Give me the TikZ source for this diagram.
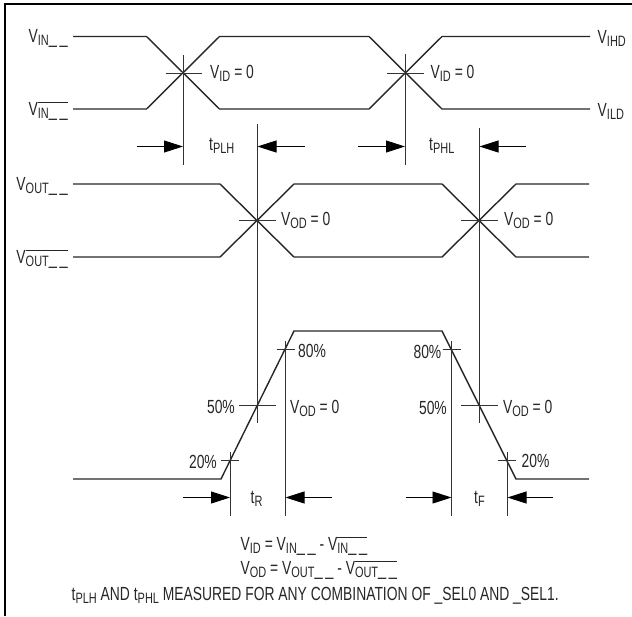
\documentclass[tikz,border=0pt]{standalone}
\usepackage{fontspec}
\setmainfont{Liberation Sans}[FakeStretch=0.73]
\usetikzlibrary{arrows.meta}
\newcommand{\uu}{\raisebox{1.5pt}{\fontsize{20}{20}\selectfont\_}\kern2.7pt\raisebox{1.5pt}{\fontsize{20}{20}\selectfont\_}}
\newcommand{\vlab}[1]{V\lower3pt\hbox{\fontsize{15}{15}\selectfont #1}}
\newcommand{\vbar}[1]{V\lower3pt\hbox{\fontsize{15}{15}\selectfont$\overline{\hbox{\rule{0pt}{14.5pt}#1}}$}}
\newcommand{\tlab}[1]{t\lower3pt\hbox{\fontsize{15}{15}\selectfont #1}}
\begin{document}
\begin{tikzpicture}[x=1pt,y=-1pt,line join=miter,font=\fontsize{19}{19}\selectfont]
	\tikzstyle{wave}=[line width=1.4pt,draw=black!85];
	\tikzstyle{guide}=[line width=0.8pt,draw=black!80];
	\tikzstyle{meas}=[line width=0.9pt,draw=black,-{Triangle[length=19pt,width=12pt]}];
	\tikzstyle{lab}=[inner sep=0pt,text=black!85,anchor=base west];
	\tikzstyle{labr}=[inner sep=0pt,text=black!85,anchor=base east];

	\useasboundingbox (0,0) rectangle (632,616);
	\draw[line width=2.4pt] (5.2,616) -- (5.2,4.2) -- (632,4.2);

	% input pair
	\draw[wave] (73,36.5) -- (146.5,36.5) -- (219.5,109) -- (369,109) -- (442,36.5) -- (590,36.5);
	\draw[wave] (73,109) -- (146.5,109) -- (219.5,36.5) -- (369,36.5) -- (442,109) -- (590,109);
	% output pair
	\draw[wave] (73,184) -- (220,184) -- (294,257) -- (442,257) -- (516,184) -- (589,184);
	\draw[wave] (73,257) -- (220,257) -- (294,184) -- (442,184) -- (516,257) -- (589,257);
	% single ended edge
	\draw[wave] (73,479) -- (221,479) -- (294,331) -- (442,331) -- (516,479) -- (589,479);

	% long verticals
	\draw[guide] (183,55) -- (183,165);
	\draw[guide] (405,54) -- (405,165);
	\draw[guide] (257,124) -- (257,423);
	\draw[guide] (479,128) -- (479,423);
	\draw[guide] (285,341) -- (285,516);
	\draw[guide] (230,452) -- (230,516);
	\draw[guide] (451.5,341) -- (451.5,516);
	\draw[guide] (507,452) -- (507,516);

	% crossing ticks
	\draw[guide] (165.5,73) -- (202,73);
	\draw[guide] (387,73) -- (424,73);
	\draw[guide] (239,220.5) -- (276,220.5);
	\draw[guide] (461,220.5) -- (498,220.5);
	\draw[guide] (276.5,349.5) -- (295,349.5);
	\draw[guide] (442.5,349.5) -- (461,349.5);
	\draw[guide] (239,405) -- (276,405);
	\draw[guide] (461,405) -- (498,405);
	\draw[guide] (221,460.5) -- (239,460.5);
	\draw[guide] (498,460.5) -- (516,460.5);

	% measuring arrows
	\draw[meas] (136.5,146.5) -- (183,146.5);
	\draw[meas] (305,146.5) -- (257.5,146.5);
	\draw[meas] (358,146.5) -- (405,146.5);
	\draw[meas] (526,146.5) -- (479.5,146.5);
	\draw[meas] (183,497.5) -- (230,497.5);
	\draw[meas] (332,497.5) -- (285.5,497.5);
	\draw[meas] (405.5,497.5) -- (451.5,497.5);
	\draw[meas] (553,497.5) -- (507.5,497.5);

	\node[labr] (vin) at (68,42) {\vlab{IN\uu}};
	\node[labr] (vinb) at (68,115) {\vbar{IN\uu}};
	\node[labr] (vout) at (68,190) {\vlab{OUT\uu}};
	\node[labr] (voutb) at (68,263) {\vbar{OUT\uu}};
	\node[lab] (vihd) at (597.5,43.5) {\vlab{IHD}};
	\node[lab] (vild) at (597.5,116) {\vlab{ILD}};
	\node[lab] (vid1) at (210,78.5) {\vlab{ID} = 0};
	\node[lab] (vid2) at (430.5,78.5) {\vlab{ID} = 0};
	\node[lab] (vod1) at (281,225.5) {\vlab{OD} = 0};
	\node[lab] (vod2) at (504,225.5) {\vlab{OD} = 0};
	\node[lab] (tplh) at (209,150.5) {\tlab{PLH}};
	\node[lab] (tphl) at (429,150.5) {\tlab{PHL}};

	\node[lab] (p80a) at (298,357) {80\%};
	\node[labr] (p80b) at (441.5,358.5) {80\%};
	\node[labr] (p50a) at (235,413.5) {50\%};
	\node[labr] (p50b) at (447,414.5) {50\%};
	\node[labr] (p20a) at (217,468) {20\%};
	\node[lab] (p20b) at (521.5,467) {20\%};
	\node[lab] (vod3) at (290,413) {\vlab{OD} = 0};
	\node[lab] (vod4) at (503,413) {\vlab{OD} = 0};
	\node[lab] (tr) at (250.5,503.5) {\tlab{R}};
	\node[lab] (tf) at (474,503.5) {\tlab{F}};

	\node[lab] (eqa) at (240.5,550) {\vlab{ID} = \vlab{IN\uu} - \vbar{IN\uu}};
	\node[lab] (eqb) at (240.5,574) {\vlab{OD} = \vlab{OUT\uu} - \vbar{OUT\uu}};
	\node[lab] (note) at (71.5,600) {\tlab{PLH} AND \tlab{PHL} MEASURED FOR ANY COMBINATION OF \_SEL0 AND \_SEL1.};
\end{tikzpicture}
\end{document}
